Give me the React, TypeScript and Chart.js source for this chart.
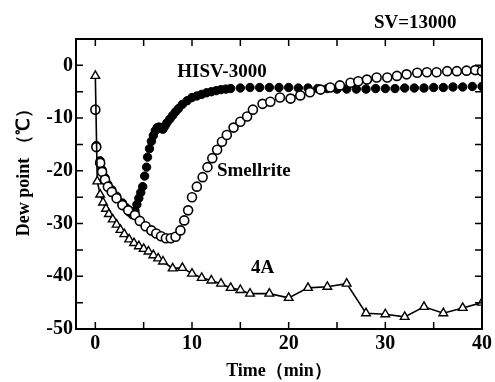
import React, { useEffect, useRef } from "react";
import { Chart, registerables } from "chart.js";

Chart.register(...registerables);

// ---- data ----
const hisvX = [0.1, 0.5, 0.7, 1.0, 1.3, 1.7, 2.2, 2.8, 3.2, 3.5, 3.8, 4.1, 4.3, 4.5, 4.7, 4.9, 5.1, 5.3, 5.4, 5.6, 5.8, 6.0, 6.2, 6.4, 6.6, 6.8, 7.0, 7.2, 7.4, 7.7, 8.0, 8.3, 8.6, 9.0, 9.5, 10.0, 10.5, 11.0, 11.5, 12.0, 12.5, 13.0, 13.5, 14.0, 15.0, 16.0, 17.0, 18.0, 19.0, 20.0, 21.0, 22.0, 23.0, 24.0, 25.0, 26.0, 27.0, 28.0, 29.0, 30.0, 31.0, 32.0, 33.0, 34.0, 35.0, 36.0, 37.0, 38.0, 39.0, 40.0];
const hisvY = [-15.2, -18.1, -19.8, -21.3, -22.6, -23.6, -24.8, -26.1, -27.0, -27.8, -28.3, -27.6, -26.4, -25.2, -24.1, -23, -21, -19.3, -17.4, -15.8, -14.4, -13.3, -12.4, -11.8, -11.7, -12.0, -12.1, -11.5, -10.9, -10.2, -9.5, -8.8, -8.2, -7.4, -6.7, -6.1, -5.8, -5.5, -5.2, -5, -4.8, -4.6, -4.5, -4.4, -4.3, -4.2, -4.2, -4.2, -4.2, -4.2, -4.3, -4.3, -4.4, -4.4, -4.5, -4.5, -4.5, -4.5, -4.4, -4.4, -4.4, -4.3, -4.3, -4.3, -4.2, -4.2, -4.1, -4.1, -4.0, -4.0];

const smellX = [0, 0.1, 0.5, 0.7, 1.0, 1.3, 1.7, 2.2, 2.8, 3.4, 4.1, 4.6, 5.2, 5.8, 6.3, 6.8, 7.3, 7.8, 8.3, 8.8, 9.2, 9.6, 10.0, 10.5, 11.1, 11.6, 12.1, 12.6, 13.1, 13.6, 14.3, 15.0, 15.7, 16.3, 17.3, 18.1, 19.1, 20.2, 21.2, 22.2, 23.3, 24.3, 25.3, 26.4, 27.2, 28.1, 29.1, 30.2, 31.2, 32.2, 33.3, 34.3, 35.3, 36.4, 37.4, 38.4, 39.3, 40.0];
const smellY = [-8.4, -15.5, -18.5, -20.2, -21.7, -23, -24, -25.2, -26.5, -27.5, -28.4, -29.5, -30.5, -31.3, -31.9, -32.4, -32.8, -32.8, -32.5, -31.3, -29.4, -27.5, -25, -23, -21.2, -19.3, -17.6, -16, -14.5, -13.2, -11.8, -10.7, -9.7, -8.4, -7.3, -6.9, -6.1, -6.3, -5.7, -5.1, -4.6, -4.2, -3.8, -3.3, -3.0, -2.7, -2.3, -2.3, -2.0, -1.7, -1.4, -1.3, -1.3, -1.1, -1.1, -1.0, -0.9, -1.1];

const a4X = [0, 0.2, 0.5, 0.8, 1.1, 1.4, 1.8, 2.2, 2.6, 3.0, 3.5, 4.0, 4.5, 5.0, 5.5, 6.0, 6.5, 7.0, 8.0, 9.0, 10.0, 11.0, 12.0, 13.0, 14.0, 15.0, 16.0, 18.0, 20.0, 22.0, 24.0, 26.0, 28.0, 30.0, 32.0, 34.0, 36.0, 38.0, 40.0];
const a4Y = [-2, -22, -24.5, -26, -27.2, -28.2, -29.2, -30.2, -31.2, -32, -33, -33.7, -34.3, -34.8, -35.3, -36, -36.6, -37.2, -38.5, -38.4, -39.5, -40.3, -40.8, -41.4, -42.2, -42.6, -43.3, -43.3, -44.1, -42.2, -42, -41.4, -47, -47.2, -47.7, -45.8, -47, -46, -45];

const xTicks = [0, 10, 20, 30, 40];
const yTicks = [0, -10, -20, -30, -40, -50];

const FONT = "'Liberation Serif', 'Times New Roman', serif";

const toPts = (xs: number[], ys: number[]) => xs.map((x, i) => ({ x, y: ys[i] }));

const framePlugin = {
  id: "frame",
  afterDraw(chart: any) {
    const { ctx, chartArea: a, scales } = chart;
    const x = scales.x;
    const y = scales.y;
    ctx.save();
    ctx.strokeStyle = "#000";
    ctx.lineWidth = 2;
    ctx.strokeRect(a.left, a.top, a.right - a.left, a.bottom - a.top);
    ctx.lineWidth = 1.5;
    ctx.beginPath();
    for (let v = 0; v <= 40; v += 5) {
      const px = x.getPixelForValue(v);
      const len = 7;
      ctx.moveTo(px, a.bottom);
      ctx.lineTo(px, a.bottom - len);
      ctx.moveTo(px, a.top);
      ctx.lineTo(px, a.top + len);
    }
    for (let v = -50; v <= 0; v += 5) {
      const py = y.getPixelForValue(v);
      const len = 7;
      ctx.moveTo(a.left, py);
      ctx.lineTo(a.left + len, py);
      ctx.moveTo(a.right, py);
      ctx.lineTo(a.right - len, py);
    }
    ctx.stroke();

    ctx.fillStyle = "#000";
    ctx.textAlign = "center";
    ctx.textBaseline = "middle";
    ctx.font = `bold 19px ${FONT}`;
    const label = (t: string, dx: number, dy: number) => {
      ctx.fillText(t, x.getPixelForValue(dx), y.getPixelForValue(dy));
    };
    label("SV=13000", 33.1, 8.0);
    label("HISV-3000", 13.1, -1.3);
    label("Smellrite", 16.4, -20);
    label("4A", 17.3, -38.5);

    // y-axis title
    ctx.save();
    ctx.translate(24, y.getPixelForValue(-19.5));
    ctx.rotate(-Math.PI / 2);
    ctx.font = `bold 18px ${FONT}`;
    ctx.fillText("Dew point （℃）", 0, 0);
    ctx.restore();
    ctx.restore();
  },
};

export default function App() {
  const ref = useRef<HTMLCanvasElement | null>(null);
  useEffect(() => {
    document.body.style.margin = "0";
    const canvas = ref.current;
    if (!canvas) return;
    const chart = new Chart(canvas, {
      type: "scatter",
      data: {
        datasets: [
          {
            label: "HISV-3000",
            order: 3,
            data: toPts(hisvX, hisvY),
            showLine: false,
            pointStyle: "circle",
            pointRadius: 4.2,
            pointBackgroundColor: "#000",
            pointBorderColor: "#000",
            pointBorderWidth: 1,
          },
          {
            label: "Smellrite",
            order: 2,
            data: toPts(smellX, smellY),
            showLine: false,
            pointStyle: "circle",
            pointRadius: 4.5,
            pointBackgroundColor: "#fff",
            pointBorderColor: "#000",
            pointBorderWidth: 1.6,
          },
          {
            label: "4A",
            order: 1,
            data: toPts(a4X, a4Y),
            showLine: true,
            borderColor: "#000",
            borderWidth: 1.6,
            pointStyle: "triangle",
            pointRadius: 5,
            pointBackgroundColor: "#fff",
            pointBorderColor: "#000",
            pointBorderWidth: 1.4,
          },
        ],
      },
      options: {
        responsive: false,
        animation: false,
        devicePixelRatio: 1,
        layout: { padding: { left: 0, right: 11, top: 39, bottom: 0 } },
        plugins: { legend: { display: false }, tooltip: { enabled: false } },
        scales: {
          x: {
            type: "linear",
            min: -2,
            max: 40,
            grid: { display: false, drawTicks: false },
            border: { display: false },
            afterBuildTicks: (s: any) => {
              s.ticks = xTicks.map((v) => ({ value: v }));
            },
            afterFit: (s: any) => {
              s.height = 53;
            },
            ticks: {
              color: "#000",
              padding: 3,
              maxRotation: 0,
              font: { family: FONT, size: 20, weight: "bold" },
            },
            title: {
              display: true,
              text: "Time（min）",
              color: "#000",
              padding: { top: 0, bottom: 0 },
              font: { family: FONT, size: 18, weight: "bold" },
            },
          },
          y: {
            type: "linear",
            min: -50,
            max: 5,
            grid: { display: false, drawTicks: false },
            border: { display: false },
            afterBuildTicks: (s: any) => {
              s.ticks = yTicks.map((v) => ({ value: v }));
            },
            afterFit: (s: any) => {
              s.width = 76;
            },
            ticks: {
              color: "#000",
              padding: 3,
              font: { family: FONT, size: 20, weight: "bold" },
            },
            title: { display: false },
          },
        },
      },
      plugins: [framePlugin],
    });
    return () => chart.destroy();
  }, []);
  return (
    <div style={{ width: 495, height: 382, background: "#fff" }}>
      <canvas ref={ref} width={495} height={382} />
    </div>
  );
}
